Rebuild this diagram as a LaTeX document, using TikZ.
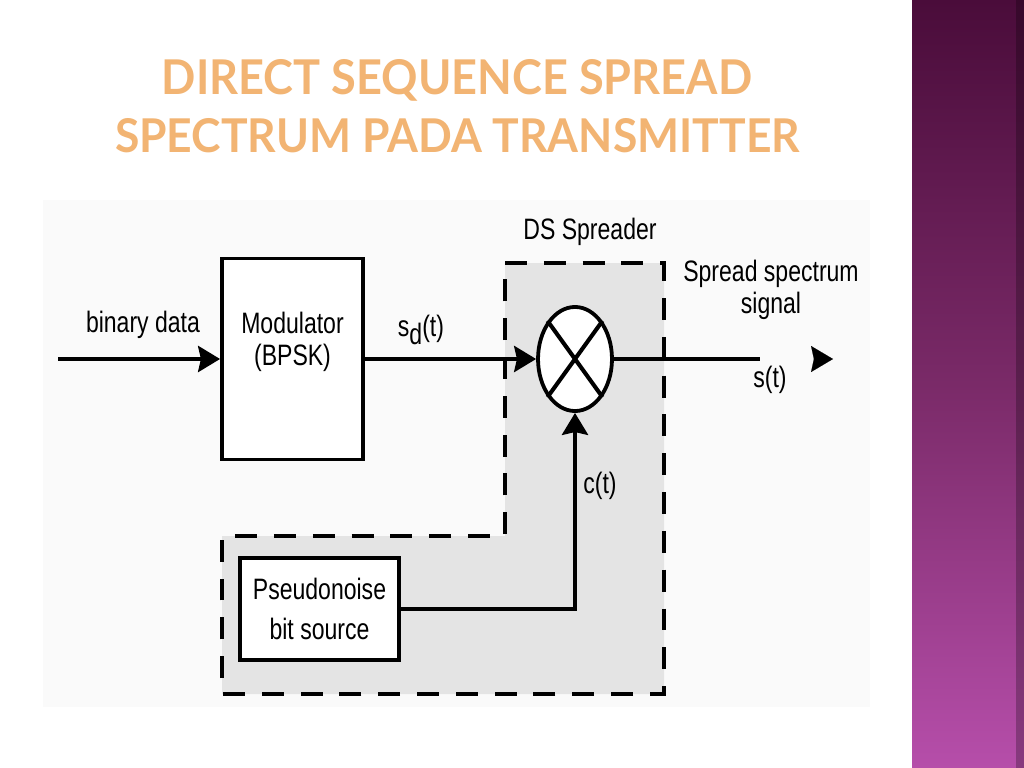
\documentclass[tikz,border=0pt]{standalone}
\usepackage{fontspec}
\usepackage{graphicx}
\setmainfont{Liberation Sans}[FakeStretch=0.78]
\newfontfamily\titlefont{Lato}
\usetikzlibrary{arrows.meta,shapes.geometric,positioning}

\definecolor{bandtop}{RGB}{74,12,58}
\definecolor{bandmid}{RGB}{122,42,104}
\definecolor{bandbot}{RGB}{182,78,170}
\definecolor{spreadgray}{RGB}{228,228,228}
\definecolor{titleorange}{RGB}{242,180,115}
\definecolor{panelbg}{RGB}{250,250,250}

\tikzset{
  wire/.style={line width=2.9pt},
  sig/.style={wire, -{Stealth[length=15.6pt,width=18.5pt,inset=2pt]}},
  blockbox/.style={draw, line width=2.7pt, fill=white, align=center, inner sep=0pt},
  lbl/.style={align=center, inner sep=0pt, font=\fontsize{21}{23}\selectfont},
}

\begin{document}
\begin{tikzpicture}[x=0.025cm, y=-0.025cm]
  \useasboundingbox (0,0) rectangle (1024,768);
  \fill[white] (0,0) rectangle (1024,768);
  % side band
  \shade[top color=bandtop, bottom color=bandbot, middle color=bandmid] (912,0) rectangle (1024,768);
  \fill[black, opacity=0.25] (1016,0) rectangle (1024,768);
  % title
  \node[text=titleorange, anchor=base, inner sep=0pt] (title1) at (457,95)
    {\resizebox{419.7pt}{24.9pt}{\titlefont\bfseries DIRECT SEQUENCE SPREAD}};
  \node[text=titleorange, anchor=base, inner sep=0pt] (title2) at (457.5,152)
    {\resizebox{487pt}{24.2pt}{\titlefont\bfseries SPECTRUM PADA TRANSMITTER}};
  % diagram panel
  \fill[panelbg] (43,200) rectangle (870,707);
  % DS spreader region
  \draw[fill=spreadgray, line width=2.8pt, dash pattern=on 15.6pt off 12pt]
    (505,263) -- (664,263) -- (664,694) -- (222,694) -- (222,536) -- (505,536) -- cycle;
  \node[lbl] (dslabel) at (590,232) {DS Spreader};
  % blocks
  \node[blockbox, minimum width=100.3pt, minimum height=143pt] (mod) at (292.5,359) {};
  \node[lbl] (modtext) at ([yshift=12pt]mod.center) {Modulator\\(BPSK)};
  \node[blockbox, minimum width=113pt, minimum height=73pt,
        font=\fontsize{21}{28}\selectfont] (pn) at (319.5,609) {Pseudonoise\\bit source};
  \node[draw, ellipse, line width=2.7pt, fill=white, minimum width=52.6pt, minimum height=74pt, inner sep=0pt] (mix) at (575,359) {};
  \draw[wire] (mix.north west) -- (mix.south east);
  \draw[wire] (mix.north east) -- (mix.south west);
  % signal path
  \coordinate (bdstart) at (58,359);
  \coordinate (sigend) at (760,359);
  \coordinate (tipa) at (811,359);
  \coordinate (tipb) at (833,359);
  \draw[sig] (bdstart) -- (mod.west);
  \draw[sig] (mod.east) -- (mix.west);
  \draw[wire] (mix.east) -- (sigend);
  \draw[sig, line width=0.1pt, shorten <=10pt] (tipa) -- (tipb);
  \draw[sig] (pn.east) -| (mix.south);
  % labels
  \node[lbl] (bdlabel) at (143,325) {binary data};
  \node[lbl] (sdlabel) at (421,330) {s\raisebox{-6pt}{d}(t)};
  \node[lbl] (sslabel) at (771,290) {Spread spectrum\\signal};
  \node[lbl] (stlabel) at (770,380) {s(t)};
  \node[lbl] (ctlabel) at (600,486) {c(t)};
\end{tikzpicture}
\end{document}
